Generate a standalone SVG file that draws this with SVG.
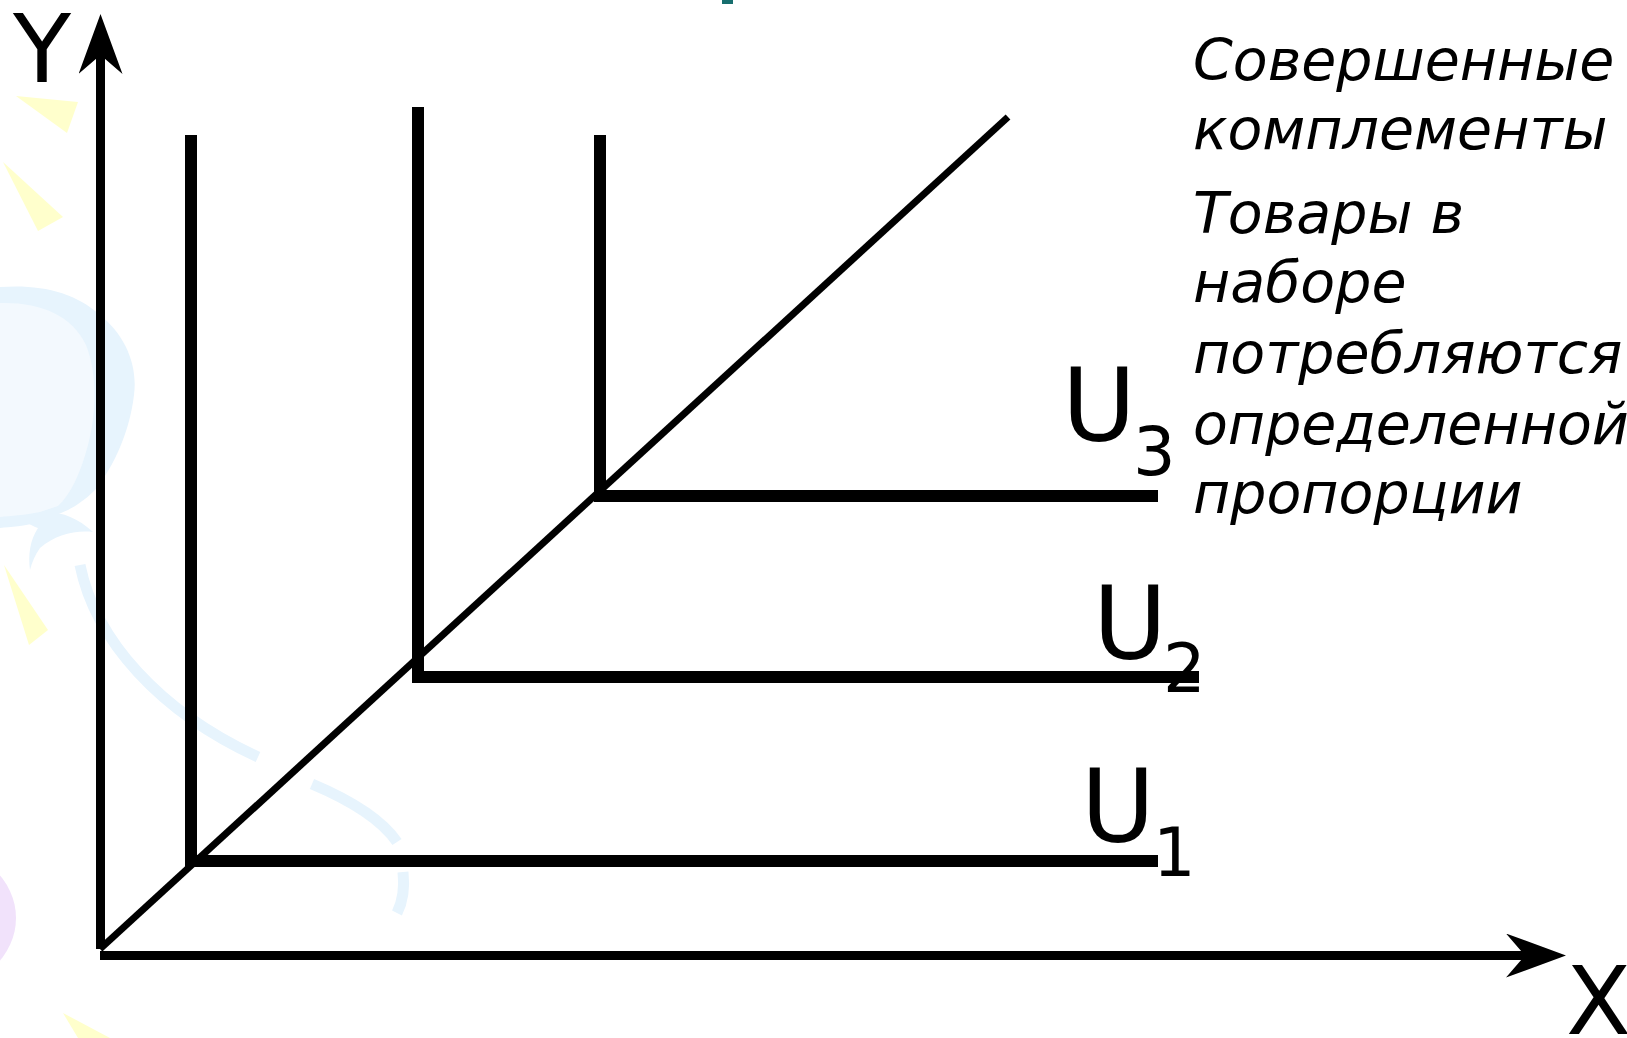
<svg xmlns="http://www.w3.org/2000/svg" width="1627" height="1038" viewBox="0 0 1627 1038">
  <style>
    .ax { stroke: #000; stroke-width: 9; fill: none; }
    .ic { stroke: #000; stroke-width: 12; fill: none; stroke-linejoin: miter; }
    .diag { stroke: #000; stroke-width: 7; }
    .lbl { font-family: "DejaVu Sans", Verdana, sans-serif; fill: #000; }
    .desc { font-family: "DejaVu Sans", Verdana, sans-serif; font-style: italic; font-size: 57px; fill: #000; }
    .yel { fill: #ffffcc; }
    .blu { fill: #e7f4fd; }
    .blu2 { fill: #f3f9fe; }
    .bluS { fill: none; stroke: #e7f4fd; stroke-width: 11; }
  </style>
  <defs>
    <marker id="arr" viewBox="0 0 60 44" refX="19" refY="22" markerWidth="60" markerHeight="44" markerUnits="userSpaceOnUse" orient="auto">
      <path d="M0,0 L60,22 L0,44 L19,22 Z" fill="#000"/>
    </marker>
  </defs>
  <rect width="1627" height="1038" fill="#fff"/>

  <g id="background">
    <rect x="722" y="0" width="11" height="4" fill="#176e6e"/>
    <polygon class="yel" points="16,96 78,102 67,133"/>
    <polygon class="yel" points="3,162 63,217 38,231"/>
    <polygon class="yel" points="4,565 48,630 29,645"/>
    <polygon class="yel" points="63,1013 110,1038 78,1038"/>
    <path class="blu" d="M0,287 C40,284 75,292 100,315 C125,335 138,365 134,395 C130,430 115,465 95,490 C82,503 68,511 58,514 L40,522 C25,526 10,527 0,528 Z"/>
    <path class="blu2" d="M0,303 C40,302 72,315 86,345 C98,375 96,415 88,445 C80,475 70,495 58,506 L40,512 C25,515 10,516 0,517 Z"/>
    <path class="blu" d="M40,513 C55,510 75,515 93,532 C75,530 55,535 40,548 C35,555 32,562 30,570 C28,555 30,540 38,528 C30,525 26,522 25,520 Z"/>
    <path class="bluS" d="M80,565 C95,640 160,712 258,757"/>
    <path class="bluS" d="M312,784 C350,800 382,820 397,842"/>
    <path class="bluS" d="M403,872 C405,890 402,903 397,913"/>
    <ellipse cx="-62" cy="918" rx="78" ry="70" fill="#f1e2fb"/>
  </g>

  <g id="connectors">
    <line id="y-axis" class="ax" x1="100.5" y1="949" x2="100.5" y2="55" marker-end="url(#arr)"/>
    <line id="x-axis" class="ax" x1="100" y1="955.5" x2="1525" y2="955.5" marker-end="url(#arr)"/>
    <line id="ray" class="diag" x1="100" y1="949" x2="1008" y2="117"/>
  </g>

  <g id="U1">
    <polyline class="ic" points="191,135 191,861 1158,861"/>
    <text class="lbl" x="1081" y="842" font-size="101">U</text>
    <text class="lbl" x="1153" y="876" font-size="67">1</text>
  </g>
  <g id="U2">
    <polyline class="ic" points="418,107 418,677 1199,677"/>
    <text class="lbl" x="1093" y="659" font-size="101">U</text>
    <text class="lbl" x="1163" y="692" font-size="67">2</text>
  </g>
  <g id="U3">
    <polyline class="ic" points="600,135 600,496 1158,496"/>
    <text class="lbl" x="1062" y="441" font-size="101">U</text>
    <text class="lbl" x="1133" y="475" font-size="67">3</text>
  </g>

  <g id="axis-labels">
    <text class="lbl" x="13" y="82" font-size="95">Y</text>
    <text class="lbl" x="1566" y="1034" font-size="95">X</text>
  </g>

  <g id="description">
    <text class="desc" x="1193" y="80">Совершенные</text>
    <text class="desc" x="1193" y="149">комплементы</text>
    <text class="desc" x="1193" y="233">Товары в</text>
    <text class="desc" x="1193" y="302">наборе</text>
    <text class="desc" x="1193" y="373">потребляются</text>
    <text class="desc" x="1193" y="444">определенной</text>
    <text class="desc" x="1193" y="513">пропорции</text>
  </g>
</svg>
